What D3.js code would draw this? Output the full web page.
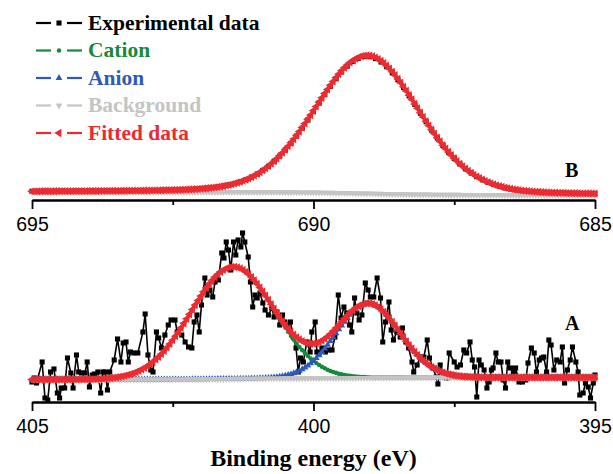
<!DOCTYPE html>
<html>
<head>
<meta charset="utf-8">
<script src="https://cdn.jsdelivr.net/npm/d3@7"></script>
<style>
  body { margin: 0; background: #fff; }
  svg { display: block; }
  .tick text { font-family: "Liberation Sans", Arial, sans-serif; font-size: 19.5px; fill: #000; }
  .lbl { font-family: "Liberation Serif", "Times New Roman", serif; font-weight: bold; }
</style>
</head>
<body>
<svg id="fig" width="613" height="474"></svg>
<script>
'use strict';

// ---- data ----

// panel B (695-685 eV), experimental intensity every 0.1 eV starting at 695.0
const bStart = 695, bStep = 0.1;
const bExp = [
  8.7, 8.7, 8.8, 8.8, 8.8, 8.9, 8.9, 8.9, 9.0, 9.0,
  9.0, 9.1, 9.1, 9.1, 9.2, 9.2, 9.3, 9.3, 9.4, 9.4,
  9.5, 9.5, 9.6, 9.7, 9.8, 10.0, 10.2, 10.4, 10.6, 10.9,
  11.3, 11.8, 12.4, 13.1, 14.0, 15.1, 16.5, 18.3, 20.4, 22.9,
  25.9, 29.6, 33.7, 38.6, 44.0, 50.0, 56.7, 64.0, 71.8, 80.1,
  88.4, 97.0, 105.5, 113.6, 121.2, 128.1, 133.9, 138.5, 141.7, 143.4,
  143.3, 141.4, 138.0, 133.3, 127.3, 120.3, 112.5, 104.2, 95.6, 86.8,
  78.3, 69.9, 62.0, 54.6, 47.8, 41.6, 36.1, 31.2, 27.0, 23.3,
  20.2, 17.6, 15.5, 13.7, 12.2, 11.1, 10.1, 9.4, 8.8, 8.3,
  7.9, 7.6, 7.4, 7.2, 7.0, 6.8, 6.7, 6.6, 6.5, 6.5,
  6.4
];
// fitted peak of panel B: centre (eV), fwhm (eV), height, lorentz fraction
const bPeaks = [[689.05, 2.2, 138, 0.15]];
const bBackground = [8, 5];   // high-BE end, low-BE end

// panel A (405-395 eV), experimental points [binding energy, intensity]
const aExp = [
  [405.00, 20], [404.96, 24], [404.92, 19], [404.82, 40], [404.77, 4], [404.72, 2],
  [404.67, 30], [404.61, 33], [404.55, 9], [404.51, 4], [404.48, 14], [404.42, 14],
  [404.37, 44], [404.31, 29], [404.27, 14], [404.21, 47], [404.17, 30], [404.12, 29],
  [404.06, 29], [404.02, 40], [403.98, 15], [403.93, 27], [403.89, 28], [403.83, 30],
  [403.78, 9], [403.74, 30], [403.70, 30], [403.66, 12], [403.62, 30], [403.54, 42],
  [403.48, 63], [403.42, 40], [403.38, 59], [403.33, 60], [403.29, 40], [403.25, 50],
  [403.19, 49], [403.12, 49], [403.03, 70], [402.99, 88], [402.94, 47], [402.89, 32],
  [402.85, 30], [402.79, 70], [402.75, 64], [402.70, 54], [402.64, 67], [402.58, 77],
  [402.53, 82], [402.46, 82], [402.42, 70], [402.34, 67], [402.28, 60], [402.22, 55],
  [402.16, 54], [402.12, 80], [402.07, 87], [402.03, 70], [401.99, 97], [401.93, 124],
  [401.89, 107], [401.84, 112], [401.79, 105], [401.75, 120], [401.69, 122], [401.63, 149],
  [401.59, 144], [401.55, 160], [401.51, 152], [401.47, 132], [401.42, 160], [401.38, 147],
  [401.34, 162], [401.29, 155], [401.26, 169], [401.22, 160], [401.16, 145], [401.12, 120],
  [401.08, 95], [401.04, 107], [401.00, 104], [400.95, 109], [400.90, 99], [400.86, 92],
  [400.80, 87], [400.74, 94], [400.70, 85], [400.65, 90], [400.60, 77], [400.55, 87],
  [400.51, 80], [400.45, 77], [400.41, 80], [400.36, 65], [400.31, 54], [400.27, 30],
  [400.23, 44], [400.18, 40], [400.12, 60], [400.06, 50], [400.03, 70], [399.97, 80],
  [399.94, 50], [399.90, 49], [399.85, 54], [399.79, 50], [399.73, 52], [399.67, 52],
  [399.62, 65], [399.56, 107], [399.51, 84], [399.46, 95], [399.41, 89], [399.36, 77],
  [399.32, 70], [399.27, 104], [399.23, 89], [399.19, 82], [399.14, 87], [399.08, 119],
  [399.03, 112], [398.99, 105], [398.93, 105], [398.87, 124], [398.81, 104], [398.77, 60],
  [398.72, 80], [398.66, 100], [398.62, 72], [398.58, 62], [398.52, 70], [398.46, 65],
  [398.42, 74], [398.36, 60], [398.31, 54], [398.25, 40], [398.22, 30], [398.16, 37],
  [398.10, 45], [398.04, 45], [397.98, 62], [397.94, 44], [397.88, 34], [397.82, 25],
  [397.79, 18], [397.75, 37], [397.69, 27], [397.63, 24], [397.59, 49], [397.50, 40],
  [397.45, 35], [397.39, 37], [397.33, 52], [397.28, 49], [397.22, 60], [397.18, 42],
  [397.14, 35], [397.10, 5], [397.06, 42], [397.02, 37], [396.97, 32], [396.92, 14],
  [396.88, 20], [396.84, 32], [396.81, 34], [396.76, 49], [396.72, 40], [396.67, 40],
  [396.63, 22], [396.59, 14], [396.55, 40], [396.50, 34], [396.45, 30], [396.41, 34],
  [396.35, 20], [396.29, 20], [396.23, 22], [396.19, 39], [396.13, 54], [396.08, 49],
  [396.04, 30], [395.99, 42], [395.95, 44], [395.91, 45], [395.86, 30], [395.82, 62],
  [395.78, 57], [395.73, 32], [395.68, 42], [395.62, 40], [395.58, 55], [395.54, 19],
  [395.49, 32], [395.44, 42], [395.40, 55], [395.34, 40], [395.30, 30], [395.27, 7],
  [395.21, 9], [395.17, 19], [395.12, 15], [395.08, 4], [395.03, 19], [395.00, 27]
];
// fitted components of panel A: centre (eV), fwhm (eV), height, lorentz fraction
const aCation = [401.43, 1.74, 112, 0];
const aAnion = [399.03, 1.34, 74, 0];
const aBackground = [22.5, 24.5];
const fitStep = 0.05;

const legendNames = ['Experimental data', 'Cation', 'Anion', 'Background', 'Fitted data'];
const legendColors = ['#000000', '#17893c', '#2b5bb6', '#c4c4c4', '#ec2b31'];
const legendShapes = ['square', 'circle', 'up', 'down', 'left'];

// ---- layout ----
const width = 613, height = 474;
const plotLeft = 32, plotRight = 595;
const axisB = 200, axisA = 402;

const svg = d3.select('#fig').attr('width', width).attr('height', height);

const xB = d3.scaleLinear().domain([695, 685]).range([plotLeft, plotRight]);
const xA = d3.scaleLinear().domain([405, 395]).range([plotLeft, plotRight]);
const yB = d3.scaleLinear().domain([0, 150]).range([axisB, axisB - 150]);
const yA = d3.scaleLinear().domain([0, 177]).range([axisA, axisA - 177]);

// pseudo-voigt line shape
function peakAt(p, e) {
  const d = e - p[0], w = p[1];
  const g = Math.exp(-4 * Math.LN2 * d * d / (w * w));
  const l = 1 / (1 + 4 * d * d / (w * w));
  return p[2] * ((1 - p[3]) * g + p[3] * l);
}

// shirley type background between the two end levels
function shirley(grid, peaks, ends) {
  const sum = grid.map(e => d3.sum(peaks, p => peakAt(p, e)));
  const cum = new Array(grid.length);
  let acc = 0;
  for (let i = grid.length - 1; i >= 0; i--) { acc += sum[i]; cum[i] = acc; }
  return grid.map((e, i) => ends[1] + (ends[0] - ends[1]) * cum[i] / acc);
}

const symbols = {
  square: { path: d3.symbol().type(d3.symbolSquare).size(26)(), rot: 0 },
  circle: { path: d3.symbol().type(d3.symbolCircle).size(16)(), rot: 0 },
  up: { path: d3.symbol().type(d3.symbolTriangle).size(20)(), rot: 0 },
  down: { path: d3.symbol().type(d3.symbolTriangle).size(20)(), rot: 180 },
  left: { path: d3.symbol().type(d3.symbolTriangle).size(30)(), rot: -90 }
};

function drawSeries(pts, x, y, color, shape, lw) {
  const g = svg.append('g');
  g.append('path').datum(pts)
    .attr('fill', 'none')
    .attr('stroke', color)
    .attr('stroke-width', lw)
    .attr('stroke-linejoin', 'round')
    .attr('d', d3.line().x(d => x(d[0])).y(d => y(d[1])));
  const s = symbols[shape];
  g.selectAll('path.m').data(pts).join('path')
    .attr('class', 'm')
    .attr('d', s.path)
    .attr('fill', color)
    .attr('transform', d => 'translate(' + x(d[0]) + ',' + y(d[1]) + ') rotate(' + s.rot + ')');
}

function drawAxis(x, yPos, major, minor) {
  const gMinor = svg.append('g').attr('transform', 'translate(0,' + yPos + ')')
    .call(d3.axisBottom(x).tickValues(minor).tickSize(5).tickSizeOuter(0).tickFormat(''));
  const gMajor = svg.append('g').attr('transform', 'translate(0,' + yPos + ')')
    .call(d3.axisBottom(x).tickValues(major).tickSize(9).tickSizeOuter(0).tickPadding(8).tickFormat(d3.format('d')));
  [gMinor, gMajor].forEach(g => {
    g.selectAll('line').attr('stroke', '#000').attr('stroke-width', 1.8);
    g.select('.domain').attr('stroke', '#000').attr('stroke-width', 2);
  });
}

// ---- panel B ----
const bPts = bExp.map((v, i) => [bStart - i * bStep, v]);
const bGrid = d3.range(0, 201).map(i => 695 - i * fitStep);
const bBg = shirley(bGrid, bPeaks, bBackground);
const bFit = bGrid.map((e, i) => [e, bBg[i] + d3.sum(bPeaks, p => peakAt(p, e))]);

drawAxis(xB, axisB, [695, 690, 685], [692.5, 687.5]);
drawSeries(bPts, xB, yB, legendColors[0], 'square', 1.6);
drawSeries(bGrid.map((e, i) => [e, bBg[i]]), xB, yB, legendColors[3], 'down', 2.5);
drawSeries(bFit, xB, yB, legendColors[4], 'left', 4);

// ---- panel A ----
const aGrid = d3.range(0, 201).map(i => 405 - i * fitStep);
const aBg = shirley(aGrid, [aCation, aAnion], aBackground);
const aCat = aGrid.map((e, i) => [e, aBg[i] + peakAt(aCation, e)]);
const aAn = aGrid.map((e, i) => [e, aBg[i] + peakAt(aAnion, e)]);
const aFit = aGrid.map((e, i) => [e, aBg[i] + peakAt(aCation, e) + peakAt(aAnion, e)]);

drawAxis(xA, axisA, [405, 400, 395], [402.5, 397.5]);
drawSeries(aExp, xA, yA, legendColors[0], 'square', 1.6);
drawSeries(aCat, xA, yA, legendColors[1], 'circle', 2.5);
drawSeries(aAn, xA, yA, legendColors[2], 'up', 1.5);
drawSeries(aGrid.map((e, i) => [e, aBg[i]]), xA, yA, legendColors[3], 'down', 2.5);
drawSeries(aFit, xA, yA, legendColors[4], 'left', 4);

// panel letters
svg.append('text').attr('class', 'lbl').attr('x', 565).attr('y', 177)
  .style('font-size', '20px').text('B');
svg.append('text').attr('class', 'lbl').attr('x', 565).attr('y', 330)
  .style('font-size', '20px').text('A');

// axis title
svg.append('text').attr('class', 'lbl')
  .attr('x', (plotLeft + plotRight) / 2).attr('y', 466)
  .attr('text-anchor', 'middle')
  .style('font-size', '24px')
  .text('Binding energy (eV)');

// ---- legend ----
const legend = svg.append('g').selectAll('g')
  .data(legendNames)
  .join('g')
  .attr('transform', (d, i) => 'translate(0,' + (29.5 + i * 27.5) + ')');

legend.each(function(d, i) {
  const g = d3.select(this);
  const c = legendColors[i];
  g.append('line').attr('x1', 36).attr('x2', 51).attr('y1', -6.5).attr('y2', -6.5)
    .attr('stroke', c).attr('stroke-width', 2.2);
  g.append('line').attr('x1', 67).attr('x2', 82).attr('y1', -6.5).attr('y2', -6.5)
    .attr('stroke', c).attr('stroke-width', 2.2);
  const s = symbols[legendShapes[i]];
  g.append('path').attr('d', s.path).attr('fill', c)
    .attr('transform', 'translate(59,-6.5) rotate(' + s.rot + ')');
  g.append('text').attr('class', 'lbl').attr('x', 88).attr('y', 0)
    .style('font-size', '21.5px').attr('fill', c).text(d);
});
</script>
</body>
</html>
